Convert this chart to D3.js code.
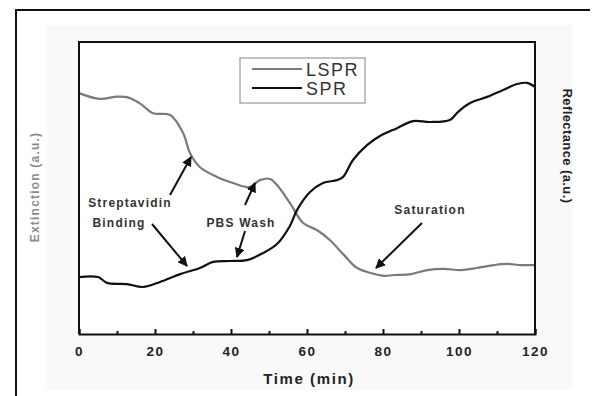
<!DOCTYPE html>
<html>
<head>
<meta charset="utf-8">
<script src="https://cdn.jsdelivr.net/npm/d3@7"></script>
<style>
  body { margin: 0; background: #fff; }
  svg { display: block; font-family: Arial, "Liberation Sans", sans-serif; }
</style>
</head>
<body>
<div id="chart"></div>
<script>
// Data (arbitrary units, 0-100 on both sides)
const lsprTime = [0, 5.5, 10, 12.6, 16, 19.5, 24, 27.4, 29.2, 31.8, 36.3, 40.5, 45, 47.6, 50.3, 52.1, 55.5, 59, 62.6, 66, 69.7, 73.2, 76.8, 80.3, 82.9, 87.4, 91.6, 96, 100.5, 104.7, 109.2, 112.6, 116.3, 120];
const lsprValue = [82.5, 80.5, 81.3, 81.1, 79.0, 75.6, 75.0, 68.8, 62.0, 57.2, 53.8, 51.7, 50.3, 52.7, 53.1, 51.0, 44.9, 38.0, 35.6, 32.2, 27.1, 22.6, 20.9, 19.9, 20.2, 20.5, 21.9, 22.3, 21.9, 22.6, 23.6, 24.0, 23.6, 23.6];
const sprTime = [0, 5, 7.4, 12.6, 16.8, 21.3, 26.6, 31.8, 35.3, 39.7, 44.2, 48.4, 52.1, 55.5, 57.4, 60.8, 64.2, 67.9, 69.5, 72.1, 75.8, 79.2, 83.7, 87.9, 92.4, 97.6, 99.7, 102.9, 107.4, 111.6, 115.3, 117.9, 120];
const sprValue = [19.5, 19.5, 17.5, 17.1, 16.1, 17.8, 20.5, 22.6, 24.7, 25.0, 25.3, 27.7, 30.8, 37.0, 42.5, 48.6, 51.7, 52.7, 53.8, 59.6, 64.7, 67.8, 70.5, 72.9, 72.6, 73.3, 76.0, 79.1, 81.2, 83.6, 85.6, 86.0, 84.6];
const majorTicks = [0, 20, 40, 60, 80, 100, 120];
const minorTicks = [10, 30, 50, 70, 90, 110];
const seriesNames = ['LSPR', 'SPR'];

const W = 594, H = 396;
const margin = {top: 42, right: 59, bottom: 62, left: 79};
const width = 535 - margin.left;
const height = 334 - margin.top;

const x = d3.scaleLinear().domain([0, 120]).range([0, width]);
const yLeft = d3.scaleLinear().domain([0, 100]).range([height, 0]);
const yRight = d3.scaleLinear().domain([0, 100]).range([height, 0]);

const svg = d3.select('#chart').append('svg')
  .attr('width', W)
  .attr('height', H);

// faint scanned-page panel and outer frame
svg.append('rect').attr('x', 47).attr('y', 25).attr('width', 525).attr('height', 365).attr('fill', '#f9f9f9');
svg.append('path').attr('d', 'M16,396V10H590').attr('fill', 'none').attr('stroke', '#111').attr('stroke-width', 2);

const g = svg.append('g').attr('transform', 'translate(' + margin.left + ',' + margin.top + ')');
g.append('rect').attr('width', width).attr('height', height).attr('fill', '#fff');

// series lines
const lspr = lsprTime.map((t, i) => ({t: t, v: lsprValue[i]}));
const spr = sprTime.map((t, i) => ({t: t, v: sprValue[i]}));
const lineL = d3.line().x(d => x(d.t)).y(d => yLeft(d.v)).curve(d3.curveCatmullRom);
const lineR = d3.line().x(d => x(d.t)).y(d => yRight(d.v)).curve(d3.curveCatmullRom);
g.append('path').datum(lspr).attr('d', lineL).attr('fill', 'none').attr('stroke', '#7a7a7a').attr('stroke-width', 2.2);
g.append('path').datum(spr).attr('d', lineR).attr('fill', 'none').attr('stroke', '#111').attr('stroke-width', 2.2);

// frame lines (left, top, right)
g.append('path').attr('d', 'M0,' + height + 'V0H' + width + 'V' + height)
  .attr('fill', 'none').attr('stroke', '#111').attr('stroke-width', 2);

// bottom axis with inward ticks
const xAxis = d3.axisBottom(x).tickValues(majorTicks).tickSize(-5).tickPadding(12).tickFormat(d3.format('d'));
const ax = g.append('g').attr('transform', 'translate(0,' + height + ')').call(xAxis);
ax.select('.domain').attr('stroke', '#111').attr('stroke-width', 2);
ax.selectAll('.tick line').attr('stroke', '#111').attr('stroke-width', 2);
ax.selectAll('.tick text').attr('fill', '#222').attr('font-size', 13.5).attr('font-weight', 'bold')
  .attr('letter-spacing', 1.5).attr('font-family', 'Arial, "Liberation Sans", sans-serif');
g.append('g').attr('transform', 'translate(0,' + height + ')')
  .call(d3.axisBottom(x).tickValues(minorTicks).tickSize(-3).tickFormat(''))
  .call(s => s.select('.domain').remove())
  .selectAll('.tick line').attr('stroke', '#111').attr('stroke-width', 2);

// axis titles
svg.append('text').attr('x', 309).attr('y', 384).attr('text-anchor', 'middle')
  .attr('font-size', 15).attr('letter-spacing', 1.6).attr('font-weight', 'bold').attr('fill', '#222').text('Time (min)');
svg.append('text').attr('transform', 'translate(39,187) rotate(-90)').attr('text-anchor', 'middle')
  .attr('font-size', 12).attr('letter-spacing', 1.2).attr('font-weight', 'bold').attr('fill', '#8a8a8a').text('Extinction (a.u.)');
svg.append('text').attr('transform', 'translate(563,146) rotate(90)').attr('text-anchor', 'middle')
  .attr('font-size', 13).attr('letter-spacing', 0.4).attr('font-weight', 'bold').attr('fill', '#222').text('Reflectance (a.u.)');

// legend
const legend = svg.append('g');
legend.append('rect').attr('x', 240).attr('y', 58).attr('width', 125).attr('height', 45)
  .attr('fill', '#fff').attr('stroke', '#999').attr('stroke-width', 1.2);
const legColors = ['#7a7a7a', '#111'];
seriesNames.forEach((name, i) => {
  const ly = 69 + i * 19;
  legend.append('line').attr('x1', 252).attr('x2', 302).attr('y1', ly).attr('y2', ly)
    .attr('stroke', legColors[i]).attr('stroke-width', 2);
  legend.append('text').attr('x', 306).attr('y', ly + 7).attr('font-size', 18).attr('letter-spacing', 1.5)
    .attr('fill', '#333').text(name);
});

// annotations
svg.append('defs').append('marker').attr('id', 'arr').attr('viewBox', '0 0 10 10')
  .attr('refX', 9).attr('refY', 5).attr('markerWidth', 5).attr('markerHeight', 5).attr('orient', 'auto')
  .append('path').attr('d', 'M0,0L10,5L0,10z').attr('fill', '#111');
const notes = [
  {text: 'Streptavidin', x: 130, y: 207},
  {text: 'Binding', x: 119, y: 227},
  {text: 'PBS Wash', x: 241, y: 227},
  {text: 'Saturation', x: 430, y: 214}
];
notes.forEach(n => svg.append('text').attr('x', n.x).attr('y', n.y).attr('text-anchor', 'middle')
  .attr('font-size', 12).attr('letter-spacing', 1.2).attr('font-weight', 'bold').attr('fill', '#333').text(n.text));
const arrows = [
  [170, 195, 191, 157],
  [152, 224, 187, 266],
  [245, 205, 255, 183],
  [245, 231, 237, 257],
  [422, 223, 376, 268]
];
arrows.forEach(a => svg.append('line').attr('x1', a[0]).attr('y1', a[1]).attr('x2', a[2]).attr('y2', a[3])
  .attr('stroke', '#111').attr('stroke-width', 2).attr('marker-end', 'url(#arr)'));
</script>
</body>
</html>
